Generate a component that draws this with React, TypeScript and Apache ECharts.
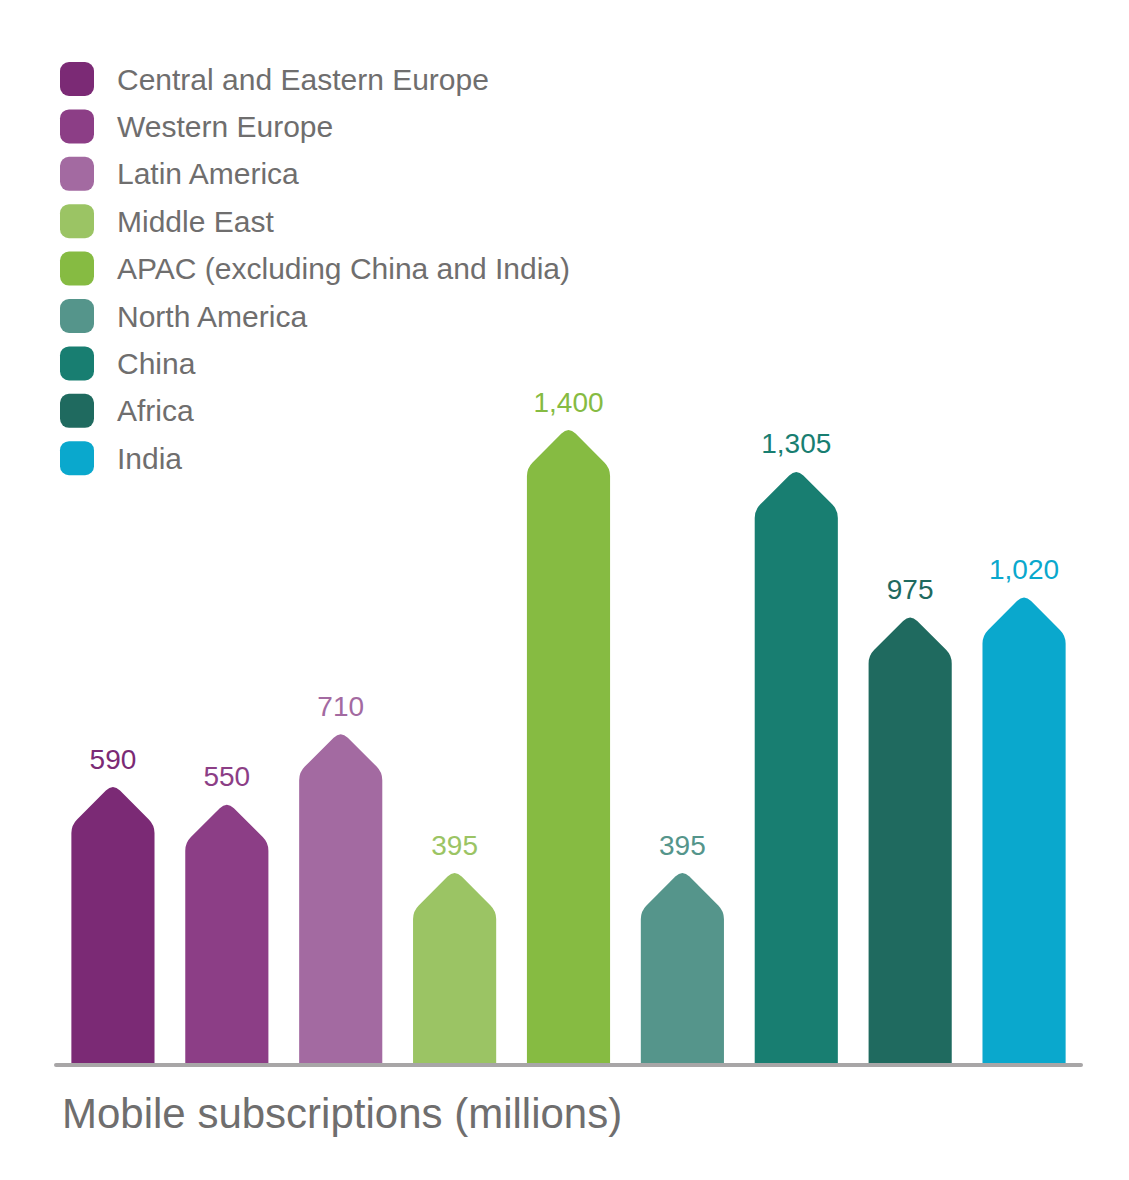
import { useEffect, useRef } from "react";
import * as echarts from "echarts";

const regions = [
  "Central and Eastern Europe",
  "Western Europe",
  "Latin America",
  "Middle East",
  "APAC (excluding China and India)",
  "North America",
  "China",
  "Africa",
  "India",
];
const subscriptions = [590, 550, 710, 395, 1400, 395, 1305, 975, 1020];
const colors = ["#7b2a75", "#8c3e86", "#a36aa1", "#9bc464", "#86bb42", "#55958b", "#187e71", "#1f6a5f", "#0aa8cd"];

const Y_MIN = -36;
const Y_MAX = 1500;
const FONT = "'Liberation Sans', Arial, sans-serif";
const TEXT_GREY = "#6f6e6e";
const ICON =
  "path://M9,0 H25 A9,9 0 0 1 34,9 V25 A9,9 0 0 1 25,34 H9 A9,9 0 0 1 0,25 V9 A9,9 0 0 1 9,0 Z";

const makeRenderer = (color: string) => (_params: any, api: any) => {
  const x = api.value(0);
  const v = api.value(1);
  const top = api.coord([x, v]);
  const base = api.coord([x, Y_MIN]);
  const half = (api.size([1, 0])[0] * 0.73) / 2;
  const xc = top[0];
  const xl = xc - half;
  const xr = xc + half;
  const k = Math.SQRT1_2;
  const rp = 10; // rounding at the tip
  const rs = 8; // rounding at the shoulders
  const apexY = top[1] - rp * k * 0.5;
  const shY = apexY + half;
  const d = [
    `M${xl},${base[1]}`,
    `L${xl},${shY + rs}`,
    `Q${xl},${shY} ${xl + rs * k},${shY - rs * k}`,
    `L${xc - rp * k},${apexY + rp * k}`,
    `Q${xc},${apexY} ${xc + rp * k},${apexY + rp * k}`,
    `L${xr - rs * k},${shY - rs * k}`,
    `Q${xr},${shY} ${xr},${shY + rs}`,
    `L${xr},${base[1]}`,
    "Z",
  ].join(" ");
  return {
    type: "group",
    children: [
      { type: "path", shape: { pathData: d }, style: { fill: color } },
      {
        type: "text",
        style: {
          text: v.toLocaleString("en-US"),
          x: xc,
          y: top[1] - 28,
          align: "center",
          verticalAlign: "middle",
          fill: color,
          fontSize: 28,
          fontFamily: FONT,
        },
      },
    ],
  };
};

export default function App() {
  const ref = useRef<HTMLDivElement>(null);

  useEffect(() => {
    document.body.style.margin = "0";
    if (!ref.current) return;
    const chart = echarts.init(ref.current, null, { renderer: "svg" });

    chart.setOption({
      animation: false,
      backgroundColor: "#ffffff",
      title: {
        text: "Mobile subscriptions (millions)",
        left: 57,
        top: 1087,
        textStyle: { color: TEXT_GREY, fontSize: 42, fontWeight: "normal", fontFamily: FONT },
      },
      legend: {
        orient: "vertical",
        left: 60,
        top: 62,
        padding: 0,
        itemWidth: 34,
        itemHeight: 34,
        itemGap: 13.4,
        selectedMode: false,
        textStyle: { color: TEXT_GREY, fontSize: 30, fontFamily: FONT, padding: [4, 0, 0, 18] },
        data: regions.map((name, i) => ({ name, icon: ICON, itemStyle: { color: colors[i] } })),
      },
      grid: { left: 56, right: 48, top: 386, bottom: 117 },
      xAxis: {
        type: "category",
        data: regions,
        offset: 2,
        axisLine: { onZero: false, lineStyle: { color: "#a8a6a7", width: 4 } },
        axisTick: { show: false },
        axisLabel: { show: false },
      },
      yAxis: {
        type: "value",
        min: Y_MIN,
        max: Y_MAX,
        show: false,
        splitLine: { show: false },
      },
      series: regions.map((name, i) => ({
        name,
        type: "custom",
        coordinateSystem: "cartesian2d",
        itemStyle: { color: colors[i] },
        encode: { x: 0, y: 1 },
        data: [[i, subscriptions[i]]],
        renderItem: makeRenderer(colors[i]),
      })),
    });

    const onResize = () => chart.resize();
    window.addEventListener("resize", onResize);
    return () => {
      window.removeEventListener("resize", onResize);
      chart.dispose();
    };
  }, []);

  return <div ref={ref} style={{ width: 1129, height: 1180 }} />;
}
